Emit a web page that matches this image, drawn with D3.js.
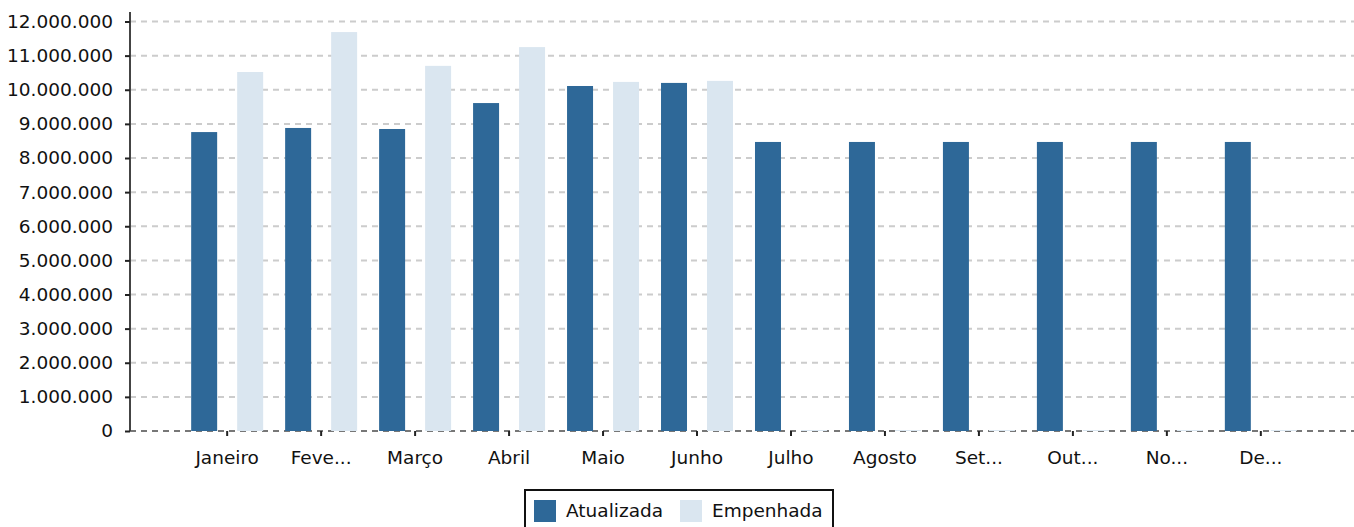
<!DOCTYPE html>
<html>
<head>
<meta charset="utf-8">
<script src="https://cdn.jsdelivr.net/npm/d3@7"></script>
<style>
  body { margin: 0; background: #fff; }
  svg { display: block; font-family: "DejaVu Sans", sans-serif; }
</style>
</head>
<body>
<div id="chart"></div>
<script>
// months and the two series (values in R$)
var months = ["Janeiro", "Feve...", "Março", "Abril", "Maio", "Junho",
              "Julho", "Agosto", "Set...", "Out...", "No...", "De..."];
var series = ["Atualizada", "Empenhada"];
var atualizada = [8760000, 8880000, 8850000, 9610000, 10110000, 10200000,
                  8470000, 8470000, 8470000, 8470000, 8470000, 8470000];
var empenhada = [10520000, 11690000, 10700000, 11250000, 10230000, 10260000,
                 0, 0, 0, 0, 0, 0];
var yTicks = [0, 1000000, 2000000, 3000000, 4000000, 5000000, 6000000,
              7000000, 8000000, 9000000, 10000000, 11000000, 12000000];
var colors = ["#2e6898", "#dae6f0"];

var w = 1354, h = 527;
var plotLeft = 130, plotRight = 1358, plotTop = 21.5, plotBottom = 431;
var fontSize = "18.5px";

var fmt = function (v) {
    return d3.format(",")(v).replace(/,/g, ".");
};

var data = months.map(function (m, i) {
    return { month: m, values: [atualizada[i], empenhada[i]] };
});

var svg = d3.select("#chart")
    .append("svg")
    .attr("width", w)
    .attr("height", h);

var x0 = d3.scaleBand()
    .domain(months)
    .range([plotLeft, plotRight])
    .paddingInner(0)
    .paddingOuter(0.534);

var x1 = d3.scaleBand()
    .domain(series)
    .range([-46, 46])
    .paddingInner(0.435)
    .paddingOuter(0.2175);

var y = d3.scaleLinear()
    .domain([0, 12000000])
    .range([plotBottom, plotTop]);

// gridlines
svg.append("g")
    .selectAll("line")
    .data(yTicks)
    .enter()
    .append("line")
    .attr("x1", plotLeft)
    .attr("x2", w)
    .attr("y1", function (d) { return y(d); })
    .attr("y2", function (d) { return y(d); })
    .style("stroke", function (d) { return d === 0 ? "#777" : "#ccc"; })
    .style("stroke-width", 2)
    .style("stroke-dasharray", "6,5");

// bars
var groups = svg.append("g")
    .selectAll("g")
    .data(data)
    .enter()
    .append("g")
    .attr("transform", function (d) {
        return "translate(" + (x0(d.month) + x0.bandwidth() / 2) + ",0)";
    });

groups.selectAll("rect")
    .data(function (d) { return d.values; })
    .enter()
    .append("rect")
    .attr("x", function (d, i) { return x1(series[i]); })
    .attr("width", x1.bandwidth())
    .attr("y", function (d) { return Math.min(y(d), plotBottom - 1); })
    .attr("height", function (d) { return Math.max(1, plotBottom - y(d)); })
    .style("fill", function (d, i) { return colors[i]; });

// x axis (ticks + labels only)
var xAxis = svg.append("g")
    .attr("transform", "translate(0," + plotBottom + ")")
    .call(d3.axisBottom(x0).tickSize(5).tickPadding(15));
xAxis.select(".domain").remove();
xAxis.selectAll(".tick line").attr("stroke", "#222").attr("stroke-width", 2);
xAxis.selectAll("text")
    .attr("fill", "#111")
    .style("font-size", fontSize)
    .style("font-family", "DejaVu Sans, sans-serif");

// y axis
var yAxis = svg.append("g")
    .attr("transform", "translate(" + plotLeft + ",0)")
    .call(d3.axisLeft(y).tickValues(yTicks).tickFormat(fmt).tickSize(5).tickPadding(12).tickSizeOuter(0));
yAxis.select(".domain")
    .attr("d", "M0," + (plotTop - 9.5) + "V" + plotBottom)
    .attr("stroke", "#444")
    .attr("stroke-width", 2);
yAxis.selectAll(".tick line").attr("stroke", "#222").attr("stroke-width", 2);
yAxis.selectAll("text")
    .attr("fill", "#111")
    .style("font-size", fontSize)
    .style("font-family", "DejaVu Sans, sans-serif");

// legend
var legend = svg.append("g").attr("transform", "translate(525,490)");
legend.append("rect")
    .attr("width", 308)
    .attr("height", 50)
    .style("fill", "#fff")
    .style("stroke", "#111")
    .style("stroke-width", 2);

var legendX = [9, 155];
var items = legend.selectAll(".item")
    .data(series)
    .enter()
    .append("g")
    .attr("class", "item")
    .attr("transform", function (d, i) { return "translate(" + legendX[i] + ",10)"; });

items.append("rect")
    .attr("width", 22)
    .attr("height", 22)
    .style("fill", function (d, i) { return colors[i]; });

items.append("text")
    .attr("x", 32)
    .attr("y", 11)
    .attr("dy", "0.35em")
    .style("font-size", fontSize)
    .style("fill", "#111")
    .text(function (d) { return d; });
</script>
</body>
</html>
